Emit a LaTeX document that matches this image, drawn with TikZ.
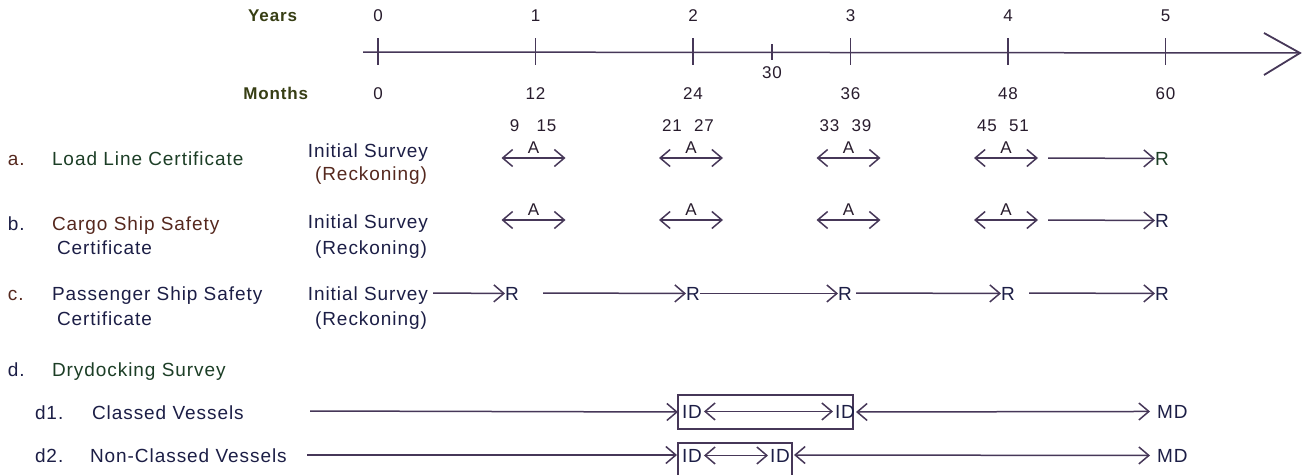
\documentclass[tikz,border=0pt]{standalone}
\usepackage{fontspec}
\setmainfont{Liberation Sans}[LetterSpace=5]
\usetikzlibrary{arrows.meta}
\definecolor{ln}{RGB}{70,55,88}
\definecolor{numc}{RGB}{40,28,45}
\definecolor{olive}{RGB}{55,62,20}
\definecolor{dgreen}{RGB}{28,62,38}
\definecolor{navy}{RGB}{28,30,70}
\definecolor{brown}{RGB}{85,40,30}
\begin{document}
\begin{tikzpicture}[x=1pt,y=-1pt,
  every node/.style={inner sep=0pt,outer sep=0pt},
  txt/.style={font=\fontsize{19}{22}\selectfont,anchor=base west,text=navy},
  txte/.style={font=\fontsize{19}{22}\selectfont,anchor=base east,text=navy},
  hdr/.style={font=\fontsize{17}{20}\selectfont\bfseries,anchor=base east,text=olive},
  num/.style={font=\fontsize{17}{20}\selectfont,anchor=base,text=numc},
  aletter/.style={font=\fontsize{17}{20}\selectfont,anchor=base,text=numc},
  conn/.style={draw=ln,line width=1.5pt},
  arr/.style={conn,-{Straight Barb[length=10pt,width=17pt]}},
  darr/.style={conn,{Straight Barb[length=10pt,width=17pt]}-{Straight Barb[length=10pt,width=17pt]}},
  boxst/.style={draw=ln,line width=1.3pt,fill=none}
]
\clip (0,0) rectangle (1309,474);
\fill[white] (0,0) rectangle (1309,474);

% ---------- time line ----------
\node[hdr] (years) at (297,21) {Years};
\node[hdr] (months) at (308,99) {Months};
\coordinate (tlS) at (363,52);
\coordinate (tlE) at (1300,53);
\coordinate (hb1) at (1264,33);
\coordinate (hb2) at (1264,75);
\draw[conn] (tlS) -- (tlE);
\draw[conn,line width=1.8pt,line join=miter] (hb1) -- (tlE) -- (hb2);
\foreach \i/\yr/\mo in {0/0/0,1/1/12,2/2/24,3/3/36,4/4/48,5/5/60}{
  \pgfmathsetmacro\xx{378+157.5*\i}
  \coordinate (tt\i) at (\xx,38);
  \coordinate (tb\i) at (\xx,65);
  \draw[conn] (tt\i) -- (tb\i);
  \node[num] (yr\i) at (\xx,21) {\yr};
  \node[num] (mo\i) at (\xx,99) {\mo};
}
\coordinate (t30a) at (772,44);
\coordinate (t30b) at (772,60);
\draw[conn] (t30a) -- (t30b);
\node[num] (m30) at (772,78) {30};

% ---------- windows A ----------
\foreach \i/\l/\r in {1/9/15,2/21/27,3/33/39,4/45/51}{
  \pgfmathsetmacro\cx{378+157.5*\i-2}
  \node[num] (wl\i) at (\cx-19,131) {\l};
  \node[num] (wr\i) at (\cx+13,131) {\r};
  \coordinate (aL\i) at (\cx-32,158);
  \coordinate (aR\i) at (\cx+32,158);
  \draw[darr] (aL\i) -- (aR\i);
  \node[aletter] (aA\i) at (\cx,153) {A};
  \coordinate (bL\i) at (\cx-32,220);
  \coordinate (bR\i) at (\cx+32,220);
  \draw[darr] (bL\i) -- (bR\i);
  \node[aletter] (bA\i) at (\cx,215) {A};
}

% ---------- row a ----------
\node[txt,text=brown] (la) at (8,165) {a.};
\node[txt,text=dgreen] (ta) at (52,165) {Load Line Certificate};
\node[txte] (isa) at (428,157) {Initial Survey};
\node[txte,text=brown] (rka) at (427,180) {(Reckoning)};
\node[txt,text=dgreen] (ra) at (1155,165) {R};
\coordinate (ra0) at (1048,158);
\draw[arr] (ra0) -- (ra.west);

% ---------- row b ----------
\node[txt] (lb) at (8,230) {b.};
\node[txt,text=brown] (tb) at (52,230) {Cargo Ship Safety};
\node[txt] (tb2) at (57,254) {Certificate};
\node[txte] (isb) at (428,228) {Initial Survey};
\node[txte] (rkb) at (427,254) {(Reckoning)};
\node[txt] (rb) at (1155,227) {R};
\coordinate (rb0) at (1048,220);
\draw[arr] (rb0) -- (rb.west);

% ---------- row c ----------
\node[txt,text=brown] (lc) at (8,300) {c.};
\node[txt] (tc) at (52,300) {Passenger Ship Safety};
\node[txt] (tc2) at (57,325) {Certificate};
\node[txte] (isc) at (428,300) {Initial Survey};
\node[txte] (rkc) at (427,325) {(Reckoning)};
\node[txt] (rc1) at (505,300) {R};
\node[txt] (rc2) at (686,300) {R};
\node[txt] (rc3) at (838,300) {R};
\node[txt] (rc4) at (1001,300) {R};
\node[txt] (rc5) at (1155,300) {R};
\coordinate (c0) at (433,293);
\coordinate (c1) at (543,293);
\coordinate (c3) at (856,293);
\coordinate (c4) at (1029,293);
\draw[arr] (c0) -- (rc1.west);
\draw[arr] (c1) -- (rc2.west);
\draw[arr] (rc2.east) -- (rc3.west);
\draw[arr] (c3) -- (rc4.west);
\draw[arr] (c4) -- (rc5.west);

% ---------- row d ----------
\node[txt] (ld) at (8,376) {d.};
\node[txt,text=dgreen] (td) at (52,376) {Drydocking Survey};

% d1
\node[txt] (ld1) at (35,419) {d1.};
\node[txt] (td1) at (92,419) {Classed Vessels};
\node[boxst,minimum width=175pt,minimum height=34pt,anchor=north west] (box1) at (678,395) {};
\node[txt] (id1a) at (682,418) {ID};
\node[txt] (id1b) at (835,418) {ID};
\node[txt] (md1) at (1157,418) {MD};
\coordinate (d1s) at (310,411);
\draw[arr] (d1s) -- (box1.west);
\draw[darr] ([xshift=2pt]id1a.east) -- ([xshift=-2pt]id1b.west);
\draw[darr] ([xshift=3pt]box1.east) -- ([xshift=-7pt]md1.west);

% d2
\node[txt] (ld2) at (35,462) {d2.};
\node[txt] (td2) at (90,462) {Non-Classed Vessels};
\node[boxst,minimum width=114pt,minimum height=40pt,anchor=north west] (box2) at (678,443) {};
\node[txt] (id2a) at (682,462) {ID};
\node[txt] (id2b) at (770,462) {ID};
\node[txt] (md2) at (1157,462) {MD};
\coordinate (d2s) at (307,455);
\coordinate (b2w) at (677,455);
\coordinate (b2e) at (794,455);
\draw[arr] (d2s) -- (b2w);
\draw[darr] ([xshift=2pt]id2a.east) -- ([xshift=-2pt]id2b.west);
\draw[darr] (b2e) -- ([xshift=-7pt]md2.west);
\end{tikzpicture}
\end{document}
